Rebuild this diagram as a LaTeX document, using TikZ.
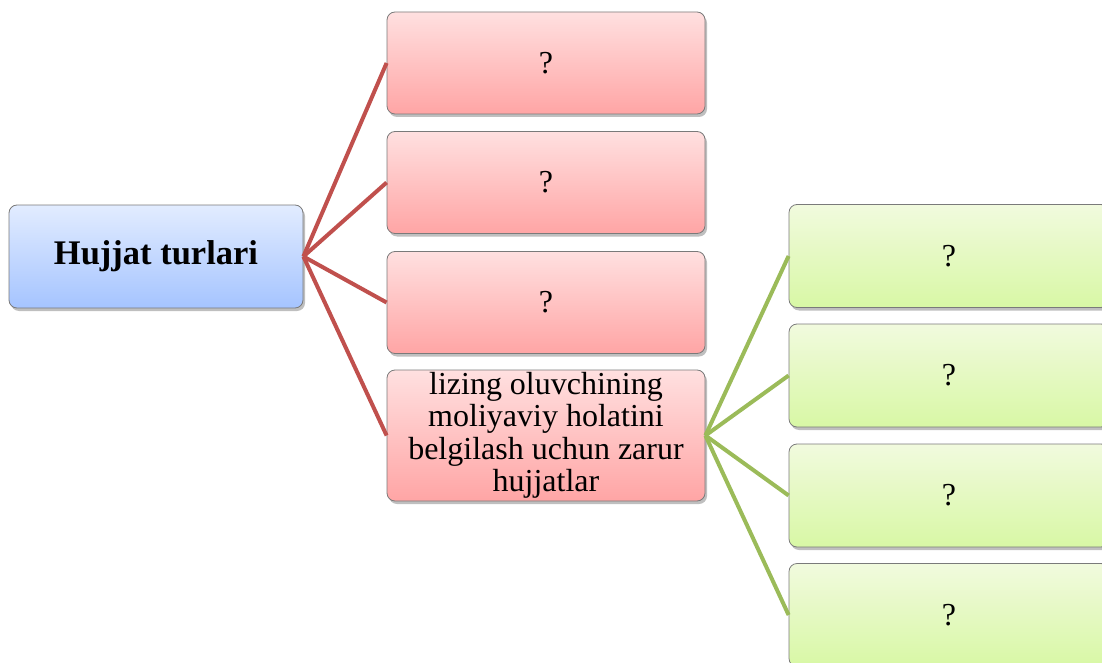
\documentclass[tikz,border=0pt]{standalone}
\usepackage{fontspec}
\setmainfont{Liberation Serif}
\usetikzlibrary{shadows}
\definecolor{redline}{HTML}{C0504D}
\definecolor{greenline}{HTML}{9BBB59}
\definecolor{boxborder}{HTML}{7A7A7A}
\tikzset{
  basebox/.style={rectangle, rounded corners=8pt, draw=boxborder, line width=0.8pt,
    align=center, inner sep=0pt, font=\fontsize{32}{32.5}\selectfont,
    drop shadow={shadow xshift=2pt, shadow yshift=-3pt, opacity=0.25, fill=black}},
  bluebox/.style={basebox, top color={rgb,255:red,226;green,236;blue,255}, bottom color={rgb,255:red,165;green,196;blue,255},
    minimum width=294pt, minimum height=103pt},
  redbox/.style={basebox, top color={rgb,255:red,255;green,224;blue,224}, bottom color={rgb,255:red,255;green,165;blue,165},
    minimum width=318pt, minimum height=102pt},
  greenbox/.style={basebox, top color={rgb,255:red,241;green,250;blue,222}, bottom color={rgb,255:red,216;green,248;blue,165},
    minimum width=320pt, minimum height=103pt},
  redlink/.style={draw=redline, line width=4pt},
  greenlink/.style={draw=greenline, line width=4pt},
}
\begin{document}
\begin{tikzpicture}[x=1pt,y=-1pt]
\useasboundingbox (0,0) rectangle (1102,663);
\clip (0,0) rectangle (1102,663);
\node[bluebox, font=\fontsize{34.5}{35}\selectfont\bfseries] (main) at (156,256.5) {Hujjat turlari};
\node[redbox] (r1) at (546,63) {?};
\node[redbox] (r2) at (546,182.5) {?};
\node[redbox] (r3) at (546,302.5) {?};
\node[redbox, minimum height=131pt] (r4) at (546,435.5) {lizing oluvchining\\moliyaviy holatini\\belgilash uchun zarur\\hujjatlar};
\node[greenbox] (g1) at (949,256) {?};
\node[greenbox] (g2) at (949,375.5) {?};
\node[greenbox] (g3) at (949,495.5) {?};
\node[greenbox] (g4) at (949,615) {?};
\foreach \t in {r1,r2,r3,r4} \draw[redlink] (main.east) -- (\t.west);
\foreach \t in {g1,g2,g3,g4} \draw[greenlink] (r4.east) -- (\t.west);
\end{tikzpicture}
\end{document}
